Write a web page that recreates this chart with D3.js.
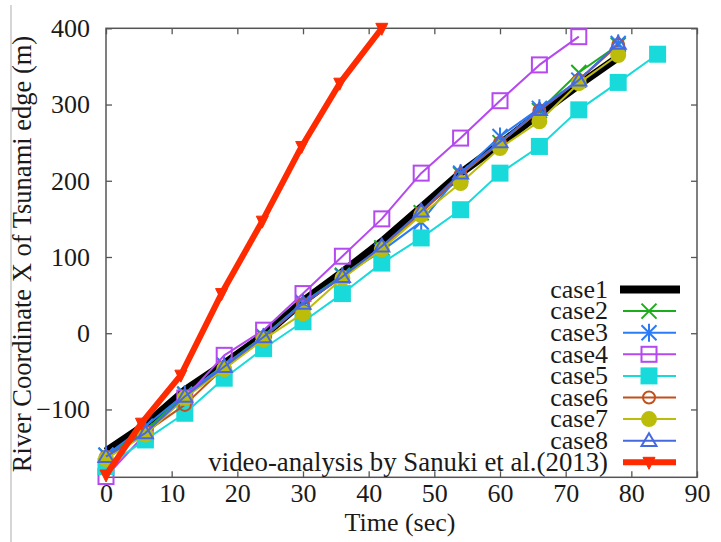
<!DOCTYPE html>
<html>
<head>
<meta charset="utf-8">
<script src="https://cdn.jsdelivr.net/npm/d3@7"></script>
<style>
  body { margin: 0; background: #fff; font-family: "Liberation Serif", serif; }
  svg text { font-family: "Liberation Serif", serif; fill: #1a1a1a; }
</style>
</head>
<body>
<div class="chart"></div>
<script>
// time steps (sec) of the simulated cases
const TIMES = [0, 6, 12, 18, 24, 30, 36, 42, 48, 54, 60, 66, 72, 78, 84];
// red line: observed times from the video
const VIDEO_TIMES = [0, 5.4, 11.4, 17.6, 23.8, 29.8, 35.6, 42];

// river coordinate of the tsunami edge (m)
const case1 = [-155, -120, -75, -40, -3, 42, 80, 120, 165, 210, 248, 288, 326, 362];
const case2 = [-160, -128, -80, -42, -4, 40, 76, 112, 158, 208, 250, 292, 342, 378];
const case3 = [-160, -122, -80, -42, -5, 40, 75, 108, 146, 210, 258, 295, 332, 380];
const case4 = [-188, -132, -85, -29, 4, 52, 101, 150, 210, 256, 305, 352, 389];
const case5 = [-175, -140, -105, -59, -20, 15, 52, 92, 125, 162, 210, 245, 293, 329, 366];
const case6 = [-162, -130, -94, -45, -6, 38, 74, 112, 158, 208, 250, 292, 332, 378];
const case7 = [-165, -133, -85, -47, -8, 26, 72, 110, 155, 197, 243, 278, 328, 365];
const case8 = [-162, -131, -83, -44, -5, 39, 74, 114, 160, 210, 251, 293, 332, 380];
const video = [-186, -118, -55, 52, 147, 245, 328, 400];

const X_TICKS = [0, 10, 20, 30, 40, 50, 60, 70, 80, 90];
const Y_TICKS = [-100, 0, 100, 200, 300, 400];

const FONT = "Liberation Serif, serif";

const SERIES = [
  { name: "case1", values: case1, color: "#000000", width: 8, symbol: "none" },
  { name: "case2", values: case2, color: "#1aae1a", width: 2, symbol: "cross" },
  { name: "case3", values: case3, color: "#2a7cf6", width: 2, symbol: "star" },
  { name: "case4", values: case4, color: "#b449f0", width: 2, symbol: "square" },
  { name: "case5", values: case5, color: "#19dada", width: 2, symbol: "fsquare" },
  { name: "case6", values: case6, color: "#c2501c", width: 2, symbol: "circle" },
  { name: "case7", values: case7, color: "#bcbc0a", width: 2, symbol: "fcircle" },
  { name: "case8", values: case8, color: "#4669e0", width: 2, symbol: "triangle" },
  { name: "video-analysis by Sanuki et al.(2013)", values: video, times: VIDEO_TIMES,
    color: "#ff2a00", width: 6, symbol: "dtriangle" },
];

const W = 721, H = 542;
const svg = d3.select(".chart").append("svg").attr("width", W).attr("height", H)
  .attr("font-family", FONT);

// page edge on the left
svg.append("line").attr("x1", 11).attr("x2", 11).attr("y1", 5).attr("y2", H)
  .attr("stroke", "#c8c8c8").attr("stroke-width", 1.5);

const xScale = d3.scaleLinear().domain([0, 90]).range([106, 697]);
const yScale = d3.scaleLinear().domain([-189, 400]).range([477.3, 28.3]);

// axes with inward ticks, mirrored on top and right
svg.append("g").attr("class", "axis x-axis")
  .attr("transform", `translate(0, ${yScale.range()[0]})`)
  .call(d3.axisBottom(xScale).tickValues(X_TICKS).tickSizeInner(-6).tickSizeOuter(0).tickPadding(6));
svg.append("g").attr("class", "axis y-axis")
  .attr("transform", `translate(${xScale.range()[0]}, 0)`)
  .call(d3.axisLeft(yScale).tickValues(Y_TICKS).tickSizeInner(-6).tickSizeOuter(0).tickPadding(16));
svg.append("g").attr("class", "axis")
  .attr("transform", `translate(0, ${yScale.range()[1]})`)
  .call(d3.axisTop(xScale).tickValues(X_TICKS).tickSizeInner(-6).tickSizeOuter(0).tickFormat(""));
svg.append("g").attr("class", "axis")
  .attr("transform", `translate(${xScale.range()[1]}, 0)`)
  .call(d3.axisRight(yScale).tickValues(Y_TICKS).tickSizeInner(-6).tickSizeOuter(0).tickFormat(""));

svg.selectAll(".axis").attr("font-family", FONT).attr("font-size", 26);
svg.selectAll(".axis .domain").remove();
svg.selectAll(".axis line").attr("stroke", "#555").attr("stroke-width", 1.3);
svg.selectAll(".axis text").attr("font-family", FONT).attr("fill", "#1a1a1a");

svg.append("rect")
  .attr("x", xScale.range()[0]).attr("y", yScale.range()[1])
  .attr("width", xScale.range()[1] - xScale.range()[0])
  .attr("height", yScale.range()[0] - yScale.range()[1])
  .attr("fill", "none").attr("stroke", "#555").attr("stroke-width", 1.5);

// axis titles
svg.append("text").attr("x", 400).attr("y", 531).attr("text-anchor", "middle")
  .attr("font-family", FONT).attr("font-size", 26).text("Time (sec)");
svg.append("text").attr("transform", "translate(31, 254) rotate(-90)")
  .attr("text-anchor", "middle").attr("font-family", FONT).attr("font-size", 26.5)
  .text("River Coordinate X of Tsunami edge (m)");

function drawSymbol(g, symbol, color, cx, cy) {
  const s = 7.5;
  if (symbol === "cross") {
    g.append("path").attr("d", `M${cx - s},${cy - s}L${cx + s},${cy + s}M${cx - s},${cy + s}L${cx + s},${cy - s}`)
      .attr("stroke", color).attr("stroke-width", 2).attr("fill", "none");
  } else if (symbol === "star") {
    g.append("path").attr("d", `M${cx - s},${cy - s}L${cx + s},${cy + s}M${cx - s},${cy + s}L${cx + s},${cy - s}` +
      `M${cx},${cy - s * 1.2}L${cx},${cy + s * 1.2}`)
      .attr("stroke", color).attr("stroke-width", 2).attr("fill", "none");
  } else if (symbol === "square" || symbol === "fsquare") {
    g.append("rect").attr("x", cx - s).attr("y", cy - s).attr("width", 2 * s).attr("height", 2 * s)
      .attr("fill", symbol === "fsquare" ? color : "none")
      .attr("stroke", color).attr("stroke-width", 2);
  } else if (symbol === "circle" || symbol === "fcircle") {
    g.append("circle").attr("cx", cx).attr("cy", cy).attr("r", symbol === "fcircle" ? 7 : 6)
      .attr("fill", symbol === "fcircle" ? color : "none")
      .attr("stroke", color).attr("stroke-width", 2);
  } else if (symbol === "triangle") {
    g.append("path").attr("d", `M${cx},${cy - s}L${cx + s},${cy + s * 0.7}L${cx - s},${cy + s * 0.7}Z`)
      .attr("fill", "none").attr("stroke", color).attr("stroke-width", 2);
  } else if (symbol === "dtriangle") {
    g.append("path").attr("d", `M${cx - 6},${cy - 5}L${cx + 6},${cy - 5}L${cx},${cy + 7}Z`)
      .attr("fill", color).attr("stroke", color).attr("stroke-width", 1);
  }
}

const line = d3.line().x(d => xScale(d[0])).y(d => yScale(d[1]));

const plot = svg.append("g").attr("class", "series");
SERIES.forEach(function (s) {
  const times = s.times || TIMES;
  const pts = s.values.map((v, i) => [times[i], v]);
  const g = plot.append("g");
  g.append("path").datum(pts).attr("d", line)
    .attr("fill", "none").attr("stroke", s.color).attr("stroke-width", s.width)
    .attr("stroke-linejoin", "round");
  pts.forEach(p => drawSymbol(g, s.symbol, s.color, xScale(p[0]), yScale(p[1])));
});

// legend
const legend = svg.append("g").attr("class", "legend");
SERIES.forEach(function (s, i) {
  const ly = 289.5 + i * 21.6;
  legend.append("text").attr("x", 608).attr("y", ly).attr("dy", "0.32em")
    .attr("text-anchor", "end").attr("font-family", FONT)
    .attr("font-size", s.times ? 26.8 : 26).text(s.name);
  legend.append("line").attr("x1", i === 0 ? 620 : 623).attr("x2", i === 0 ? 680 : 676)
    .attr("y1", ly).attr("y2", ly).attr("stroke", s.color).attr("stroke-width", s.width);
  drawSymbol(legend, s.symbol, s.color, 649, ly);
});
</script>
</body>
</html>
